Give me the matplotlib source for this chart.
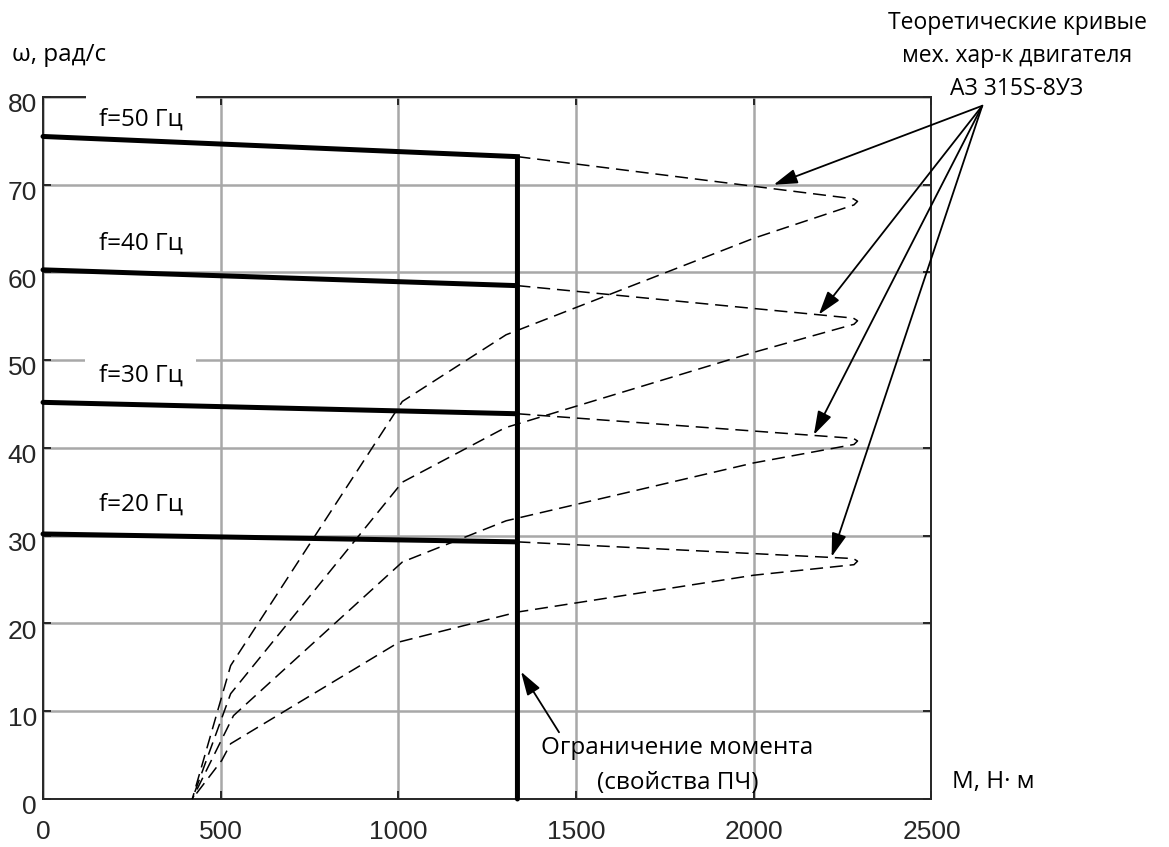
import matplotlib.pyplot as plt
from matplotlib.transforms import ScaledTranslation

plt.rcParams['font.family'] = ['Open Sans', 'DejaVu Sans']

# Torque limit of the frequency converter, N*m
m_limit = 1335

# Working (solid) characteristics for each supply frequency
freqs = [50, 40, 30, 20]
w_start = [75.5, 60.3, 45.2, 30.2]   # speed at M = 0
w_end = [73.2, 58.5, 43.9, 29.3]     # speed at the torque limit
label_y = [77.4, 63.3, 48.3, 33.5]

# Theoretical motor curves (dashed), torque and speed per frequency
curve_m = {
    50: [1335, 2280, 2292, 2282, 2000, 1303, 1011, 528, 420],
    40: [1335, 2280, 2292, 2282, 2000, 1300, 1011, 528, 420],
    30: [1335, 2280, 2292, 2282, 2000, 1303, 1011, 536, 420],
    20: [1335, 2280, 2292, 2282, 2000, 1335, 1003, 528, 503, 420],
}
curve_w = {
    50: [73.2, 68.4, 68.1, 67.7, 63.9, 52.9, 45.3, 15.2, 0],
    40: [58.5, 54.8, 54.5, 54.1, 50.9, 42.3, 36.1, 12.0, 0],
    30: [43.9, 41.1, 40.8, 40.4, 38.3, 31.7, 27.0, 9.5, 0],
    20: [29.3, 27.4, 27.1, 26.7, 25.5, 21.3, 17.9, 6.3, 4.4, 0],
}

# Pointer arrows to the theoretical curves
arrow_origin = (2643, 79.0)
arrow_targets = [(2056, 70.0), (2183, 55.2), (2169, 41.5), (2219, 27.6)]

x_ticks = [0, 500, 1000, 1500, 2000, 2500]
y_ticks = [0, 10, 20, 30, 40, 50, 60, 70, 80]

fig = plt.figure(figsize=(11.69, 8.47), dpi=100)
ax = fig.add_axes([0.0368, 0.0567, 0.76, 0.8288])

grid_c = '#a8a8a8'
axis_c = '#262626'

ax.set_xlim(0, 2500)
ax.set_ylim(0, 80)
ax.set_xticks(x_ticks)
ax.set_yticks(y_ticks)
ax.grid(True, color=grid_c, lw=1.8, zorder=0)
ax.set_axisbelow(True)
for s in ax.spines.values():
    s.set_color(axis_c)
    s.set_linewidth(1.4)
ax.tick_params(direction='in', length=5.8, width=1.4, color=axis_c,
               top=True, right=True, labelsize=19, labelcolor=axis_c)
ax.tick_params(axis='x', pad=15)
ax.tick_params(axis='y', pad=4.5)
for lbl in ax.get_xticklabels() + ax.get_yticklabels():
    lbl.set_fontfamily('Liberation Sans')
for lbl in ax.get_yticklabels():
    lbl.set_transform(lbl.get_transform() +
                      ScaledTranslation(0, -4 / 72, fig.dpi_scale_trans))

# dashed theoretical curves
for f in freqs:
    ax.plot(curve_m[f], curve_w[f], color='black', lw=1.1,
            dashes=(8.5, 4.5), zorder=3, clip_on=False)

# solid working characteristics and the torque limit
for i, f in enumerate(freqs):
    if i == 0:
        ax.plot([0, m_limit, m_limit], [w_start[i], w_end[i], 0],
                color='black', lw=3.6, solid_capstyle='round',
                solid_joinstyle='miter', zorder=6, clip_on=False)
    else:
        ax.plot([0, m_limit], [w_start[i], w_end[i]], color='black',
                lw=3.6, solid_capstyle='round', zorder=6, clip_on=False)
    ax.text(275, label_y[i], f'f={f} Гц', fontsize=17.5, ha='center',
            va='center', zorder=5, clip_on=False,
            bbox=dict(boxstyle='square,pad=0.55', fc='white', ec='none'))

arrow_style = dict(arrowstyle='-|>,head_length=0.8,head_width=0.25',
                   mutation_scale=18, color='black', lw=1.3,
                   shrinkA=0, shrinkB=0)
for tx, ty in arrow_targets:
    ax.annotate('', xy=(tx, ty), xytext=arrow_origin,
                arrowprops=arrow_style, annotation_clip=False, zorder=7)

ax.annotate('', xy=(1345, 14.5), xytext=(1452, 7.6),
            arrowprops=arrow_style, annotation_clip=False, zorder=7)
ax.text(1785, 5.8, 'Ограничение момента', fontsize=17.5, ha='center',
        va='center', zorder=7)
ax.text(1785, 1.85, '(свойства ПЧ)', fontsize=17.5, ha='center',
        va='center', zorder=7)

fig.text(0.870, 0.934, 'Теоретические кривые\nмех. хар-к двигателя\nАЗ 315S-8УЗ',
         fontsize=16.5, ha='center', va='center', linespacing=1.5)
fig.text(12 / 1169, 1 - 55 / 847, 'ω, рад/с', fontsize=17.5, ha='left',
         va='center')
fig.text(952 / 1169, 1 - 782 / 847, 'М, Н· м', fontsize=17.5, ha='left',
         va='center')

fig.savefig('out.png', dpi=100)
